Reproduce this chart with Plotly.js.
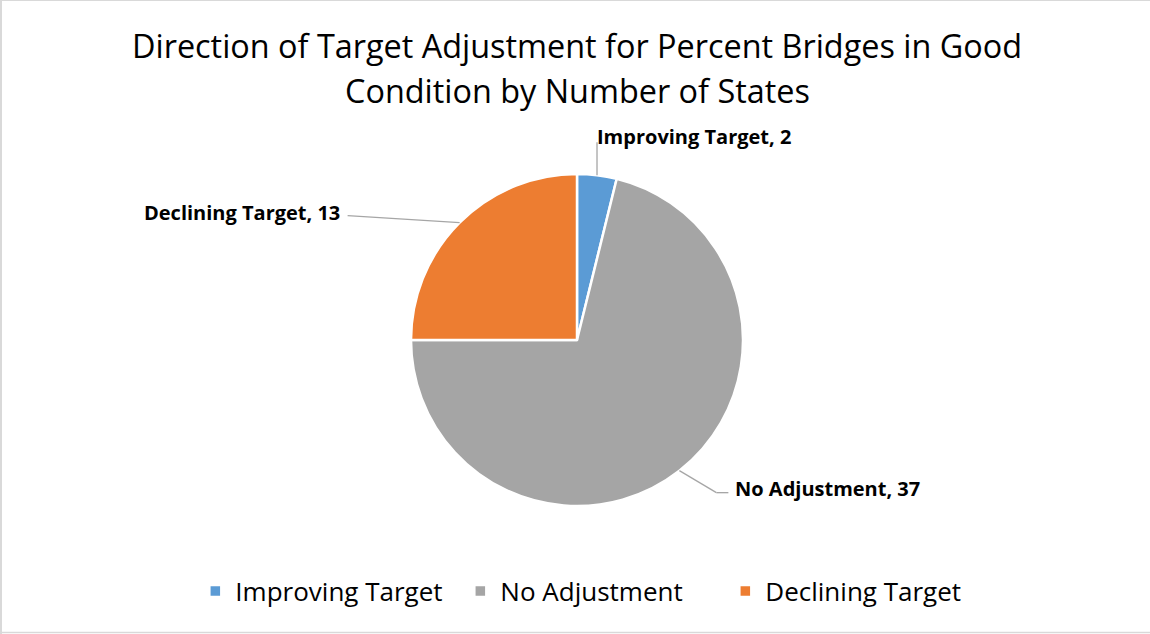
<!DOCTYPE html>
<html><head><meta charset="utf-8">
<script src="https://cdn.plot.ly/plotly-3.0.1.min.js"></script>
<style>html,body{margin:0;padding:0;background:#fff}#chart{width:1150px;height:634px}</style>
</head><body><div id="chart"></div>
<script>
const categories = ["Improving Target", "No Adjustment", "Declining Target"];
const values = [2, 37, 13];
const colors = ["#5B9BD5", "#A5A5A5", "#ED7D31"];
const titleLines = ["Direction of Target Adjustment for Percent Bridges in Good", "Condition by Number of States"];

const W = 1150, H = 634;
const cx = 577, cy = 340, R = 166;
const FONT = "'Open Sans', Lato, sans-serif";

const total = values.reduce((a, b) => a + b, 0);
const labelStyle = [
  {pts: [[0, -33]], anchor: "left", tdx: -2, tdy: -39},
  {pts: [[37, 22], [49, 22]], anchor: "left", tdx: 54, tdy: 18},
  {pts: [[-112, -7]], anchor: "right", tdx: -118, tdy: -10}
];
const px = x => x / W, py = y => 1 - y / H;
const shapes = [];
const annotations = [];
let cum = 0;
values.forEach((v, i) => {
  const mid = (cum + v / 2) / total * 2 * Math.PI;
  cum += v;
  const ex = cx + R * Math.sin(mid), ey = cy - R * Math.cos(mid);
  let prev = [ex, ey];
  labelStyle[i].pts.forEach(p => {
    const nx = ex + p[0], ny = ey + p[1];
    shapes.push({type: "line", xref: "paper", yref: "paper",
      x0: px(prev[0]), y0: py(prev[1]), x1: px(nx), y1: py(ny),
      line: {color: "#A6A6A6", width: 1.3}});
    prev = [nx, ny];
  });
  annotations.push({xref: "paper", yref: "paper",
    x: px(ex + labelStyle[i].tdx), y: py(ey + labelStyle[i].tdy),
    xanchor: labelStyle[i].anchor, yanchor: "middle", showarrow: false,
    text: "<b>" + categories[i] + ", " + v + "</b>",
    font: {family: FONT, size: 20, color: "#000"}});
});
// title, one annotation per line
const titleY = [45, 90];
titleLines.forEach((t, i) => {
  annotations.push({xref: "paper", yref: "paper", x: px(577), y: py(titleY[i]),
    xanchor: "center", yanchor: "middle", showarrow: false, text: t,
    font: {family: FONT, size: 32.4, color: "#000"}});
});
// chart border
shapes.push({type: "line", xref: "paper", yref: "paper", x0: 0, x1: 1, y0: py(0.5), y1: py(0.5), line: {color: "#D9D9D9", width: 1}});
shapes.push({type: "line", xref: "paper", yref: "paper", x0: px(1), x1: px(1), y0: 0, y1: 1, line: {color: "#D9D9D9", width: 2}});
shapes.push({type: "line", xref: "paper", yref: "paper", x0: 0, x1: 1, y0: py(632.5), y1: py(632.5), line: {color: "#D9D9D9", width: 1.5}});

const data = [{
  type: "pie",
  labels: categories,
  values: values,
  sort: false,
  direction: "clockwise",
  rotation: 0,
  textinfo: "none",
  hoverinfo: "label+value",
  marker: {colors: colors, line: {color: "#FFFFFF", width: 2.5}},
  domain: {x: [(cx - R) / W, (cx + R) / W], y: [py(cy + R), py(cy - R)]}
}];

const layout = {
  width: W, height: H,
  margin: {l: 0, r: 0, t: 0, b: 0},
  paper_bgcolor: "#FFFFFF",
  showlegend: true,
  legend: {orientation: "h", x: 0.5155, xanchor: "center", y: py(591), yanchor: "middle",
    font: {family: FONT, size: 26, color: "#000"}, itemwidth: 30, traceorder: "normal",
    entrywidth: 220, entrywidthmode: "pixels"},
  shapes: shapes,
  annotations: annotations
};
Plotly.newPlot("chart", data, layout, {displayModeBar: false});
</script></body></html>
